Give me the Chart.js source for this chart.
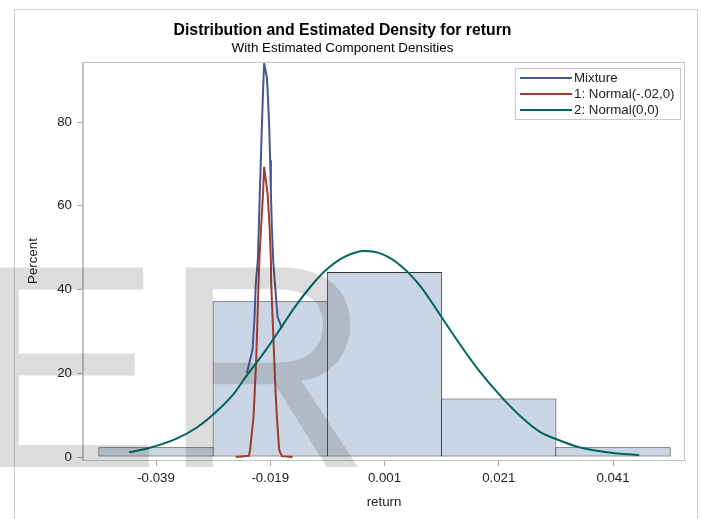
<!DOCTYPE html>
<html>
<head>
<meta charset="utf-8">
<title>Distribution and Estimated Density for return</title>
<script src="https://cdn.jsdelivr.net/npm/chart.js@4.4.1/dist/chart.umd.min.js"></script>
<style>
    html, body { margin: 0; padding: 0; background: #fff; }
    #wrap { width: 701px; height: 519px; position: relative; }
</style>
</head>
<body>
<div id="wrap"><canvas id="chart" width="701" height="519"></canvas></div>
<script>
    // Histogram: bin midpoints (bin width 0.02) and percent of observations
    const binMids = [-0.039, -0.019, 0.001, 0.021, 0.041];
    const binPercents = [2.3, 37.2, 44.2, 14.0, 2.3];

    // Mixture density (only the part that rises above component 2)
    const mixtureX = [-0.0231, -0.0221, -0.02175, -0.02153, -0.02118, -0.0210, -0.02083, -0.02065, -0.02047, -0.02025, -0.02007,
                      -0.0196, -0.01947, -0.01919, -0.01902, -0.01889, -0.01872, -0.01849, -0.01819, -0.01772, -0.01696];
    const mixtureY = [20.0, 25.6, 33.5, 41.5, 47.0, 55.0, 63.0, 70.9, 78.9, 87.9, 94.0,
                      90.8, 87.9, 78.9, 70.9, 63.0, 55.0, 47.0, 41.5, 33.5, 30.7];

    // Component 1: Normal(-.02, 0)
    const comp1X = [-0.02504, -0.02275, -0.02253, -0.02193, -0.02165, -0.0214, -0.02123, -0.02105, -0.02088, -0.0206, -0.02026, -0.02007,
                    -0.01947, -0.01912, -0.01889, -0.01884, -0.0186, -0.01837, -0.01814, -0.01784, -0.01744, -0.01696, -0.01509];
    const comp1Y = [0, 0.3, 1.7, 9.6, 17.6, 25.6, 33.5, 41.5, 48.0, 55.0, 63.0, 69.3,
                    63.0, 55.0, 47.0, 41.5, 33.5, 25.6, 17.6, 9.6, 1.7, 0.2, 0];

    // Component 2: Normal(0, 0)
    const comp2X = [-0.0437, -0.0401, -0.0354, -0.0321, -0.0287, -0.0254, -0.0231, -0.0200, -0.0174, -0.0147, -0.0120, -0.0093, -0.0060, -0.0025,
                    0.0007, 0.0041, 0.0074, 0.0108, 0.0141, 0.0175, 0.0215, 0.0249, 0.0282, 0.0316, 0.0349, 0.0396, 0.0456];
    const comp2Y = [1.1, 2.2, 4.4, 6.8, 10.5, 15.1, 19.5, 25.1, 30.3, 35.8, 40.6, 44.6, 47.8, 49.2,
                    48.4, 45.4, 40.6, 33.8, 27.1, 20.7, 14.3, 9.6, 6.0, 4.0, 2.4, 1.2, 0.4];

    const xTicks = [-0.039, -0.019, 0.001, 0.021, 0.041];
    const yTicks = [0, 20, 40, 60, 80];

    const FONT = '"Liberation Sans", Arial, sans-serif';
    const toPoints = (xs, ys) => xs.map((x, i) => ({ x: x, y: ys[i] }));

    // outer graph border + plot frame
    const frames = {
        id: 'frames',
        beforeDraw(chart) {
            const ctx = chart.ctx;
            ctx.save();
            ctx.strokeStyle = '#cfcfcf';
            ctx.lineWidth = 1;
            ctx.strokeRect(14.5, 9.5, 683, 540);
            ctx.restore();
        },
        afterDatasetsDraw(chart) {
            const { ctx, chartArea: a } = chart;
            ctx.save();
            ctx.strokeStyle = '#c4c4c4';
            ctx.lineWidth = 1;
            ctx.strokeRect(Math.round(a.left) - 0.5, Math.round(a.top) + 0.5,
                           Math.round(a.right - a.left), Math.round(a.bottom - a.top));
            ctx.restore();
        }
    };

    // legend box inside the upper right corner of the plot
    const insideLegend = {
        id: 'insideLegend',
        afterDatasetsDraw(chart) {
            const { ctx, chartArea: a } = chart;
            const items = chart.data.datasets.filter(d => d.type === 'line');
            const w = 165, rowH = 16;
            const h = items.length * rowH + 3;
            const x0 = Math.round(a.right) - 5 - w;
            const y0 = Math.round(a.top) + 6;
            ctx.save();
            ctx.fillStyle = '#fff';
            ctx.fillRect(x0, y0, w, h);
            ctx.strokeStyle = '#c8c8c8';
            ctx.lineWidth = 1;
            ctx.strokeRect(x0 + 0.5, y0 + 0.5, w, h);
            ctx.font = '13.3px ' + FONT;
            ctx.textBaseline = 'middle';
            items.forEach((d, i) => {
                const y = y0 + 10 + i * rowH;
                ctx.strokeStyle = d.borderColor;
                ctx.lineWidth = 2;
                ctx.beginPath();
                ctx.moveTo(x0 + 5, y);
                ctx.lineTo(x0 + 57, y);
                ctx.stroke();
                ctx.fillStyle = '#222';
                ctx.fillText(d.label, x0 + 59, y + 0.5);
            });
            ctx.restore();
        }
    };

    // big grey watermark letters over the graph
    const watermark = {
        id: 'watermark',
        afterDraw(chart) {
            const ctx = chart.ctx;
            ctx.save();
            ctx.fillStyle = 'rgba(50, 50, 50, 0.17)';
            ctx.font = '290px ' + FONT;
            ctx.textBaseline = 'alphabetic';
            ctx.fillText('E', -32, 467);
            ctx.fillText('R', 162, 467);
            ctx.restore();
        }
    };

    const ctx = document.getElementById('chart').getContext('2d');
    const chart = new Chart(ctx, {
        type: 'bar',
        data: {
            datasets: [{
                type: 'bar',
                label: 'Histogram',
                data: toPoints(binMids, binPercents),
                backgroundColor: '#CAD5E5',
                borderColor: '#333333',
                borderWidth: 1,
                borderSkipped: false,
                barPercentage: 1.009,
                categoryPercentage: 1,
                order: 4
            }, {
                type: 'line',
                label: 'Mixture',
                data: toPoints(mixtureX, mixtureY),
                borderColor: '#445694',
                borderWidth: 2,
                pointRadius: 0,
                tension: 0,
                fill: false,
                order: 3
            }, {
                type: 'line',
                label: '1: Normal(-.02,0)',
                data: toPoints(comp1X, comp1Y),
                borderColor: '#A23A2E',
                borderWidth: 2,
                pointRadius: 0,
                tension: 0,
                fill: false,
                order: 2
            }, {
                type: 'line',
                label: '2: Normal(0,0)',
                data: toPoints(comp2X, comp2Y),
                borderColor: '#01665E',
                borderWidth: 2,
                pointRadius: 0,
                cubicInterpolationMode: 'monotone',
                fill: false,
                order: 1
            }]
        },
        options: {
            responsive: false,
            animation: false,
            devicePixelRatio: 1,
            layout: { padding: { left: 0, right: 16, top: 0, bottom: 0 } },
            plugins: {
                legend: { display: false },
                tooltip: { enabled: false },
                title: {
                    display: true,
                    text: 'Distribution and Estimated Density for return',
                    color: '#000',
                    font: { family: FONT, size: 15.8, weight: 'bold', lineHeight: 1.2 },
                    padding: { top: 21.5, bottom: 0 }
                },
                subtitle: {
                    display: true,
                    text: 'With Estimated Component Densities',
                    color: '#000',
                    font: { family: FONT, size: 13.4, lineHeight: 1.2 },
                    padding: { top: 0, bottom: 5.5 }
                }
            },
            scales: {
                x: {
                    type: 'linear',
                    min: -0.05178,
                    max: 0.0536,
                    offset: false,
                    grid: { drawOnChartArea: false, offset: false, tickLength: 6, color: '#a8a8a8' },
                    border: { color: '#c4c4c4' },
                    afterBuildTicks: s => { s.ticks = xTicks.map(v => ({ value: v })); },
                    afterFit: s => { s.height = 59; },
                    ticks: {
                        autoSkip: false,
                        maxRotation: 0,
                        padding: 4,
                        color: '#222',
                        font: { family: FONT, size: 13.3 },
                        callback: v => v.toFixed(3)
                    },
                    title: {
                        display: true,
                        text: 'return',
                        color: '#222',
                        font: { family: FONT, size: 13.3 },
                        padding: { top: 0, bottom: 9 }
                    }
                },
                y: {
                    type: 'linear',
                    min: -0.716,
                    max: 94.33,
                    grid: { drawOnChartArea: false, tickLength: 6, color: '#a8a8a8' },
                    border: { color: '#c4c4c4' },
                    afterBuildTicks: s => { s.ticks = yTicks.map(v => ({ value: v })); },
                    afterFit: s => { s.width = 83; },
                    ticks: {
                        padding: 5,
                        color: '#222',
                        font: { family: FONT, size: 13.3 }
                    },
                    title: {
                        display: true,
                        text: 'Percent',
                        color: '#222',
                        font: { family: FONT, size: 13.3 },
                        padding: { top: 25, bottom: 0 }
                    }
                }
            }
        },
        plugins: [frames, insideLegend, watermark]
    });
</script>
</body>
</html>
